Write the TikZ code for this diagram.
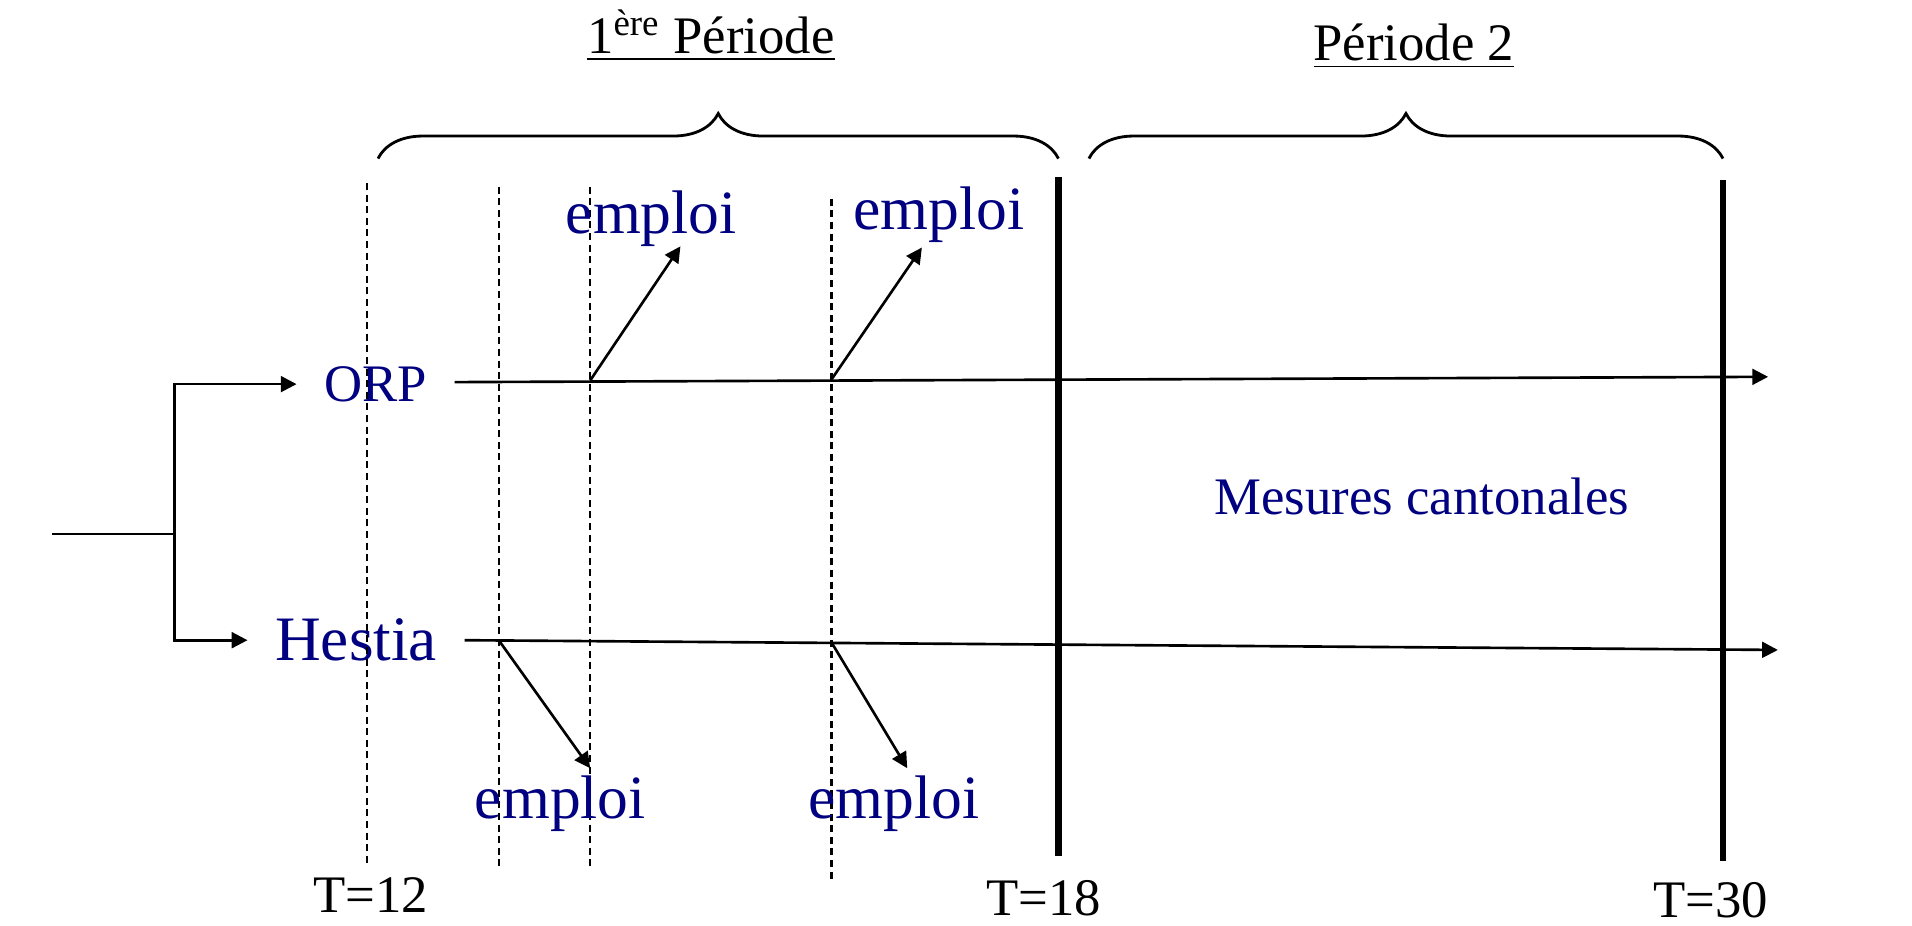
\documentclass[tikz,border=0pt]{standalone}
\usepackage{fontspec}
\setmainfont{Liberation Serif}
\usetikzlibrary{arrows.meta, positioning, decorations.pathreplacing}
\definecolor{navy}{HTML}{000080}
\definecolor{ink}{HTML}{000000}
\tikzset{
  actor/.style  = {font=\fontsize{15}{18}\selectfont, text=navy, inner sep=0.27cm},
  job/.style    = {font=\fontsize{17.5}{20}\selectfont, text=navy, inner sep=0pt},
  note/.style   = {font=\fontsize{15}{18}\selectfont, text=navy, inner sep=0pt},
  tlabel/.style = {font=\fontsize{15}{18}\selectfont, text=ink, inner sep=0pt},
  title/.style  = {font=\fontsize{15}{18}\selectfont, text=ink, inner sep=0pt, anchor=base},
  flow/.style   = {-{Triangle[length=4.5pt,width=4.5pt]}, line width=0.75pt, draw=ink},
  guide/.style  = {line width=0.7pt, draw=ink, dash pattern=on 2pt off 1.3pt},
  limit/.style  = {line width=1.9pt, draw=ink},
  brc/.style    = {decorate, decoration={brace, amplitude=0.45cm}, line width=0.8pt, draw=ink},
}

\begin{document}
\begin{tikzpicture}[x={(0.012194cm,0)}, y={(0,-0.012194cm)}]
  \useasboundingbox (0,0) rectangle (1568,759);

  % split into the two programmes
  \coordinate (in) at (43,438);
  \coordinate (split) at (143,438);
  \node[actor] (orp) at (308,315) {ORP};
  \node[actor, font=\fontsize{18}{21}\selectfont] (hestia) at (292,525) {Hestia};
  \draw[line width=0.75pt, draw=ink] (in) -- (split);
  \draw[flow] (split) |- (orp.west);
  \draw[flow] (split) |- (hestia.west);

  % time lines
  \coordinate (orpend) at (1450,309);
  \coordinate (hestiaend) at (1458,533);
  \draw[flow] ([yshift=0.02cm]orp.east) -- (orpend);
  \draw[flow] (hestia.east) -- (hestiaend);

  % dashed dates
  \foreach \x/\ya/\yb in {301/150/708, 409/153/710, 484/153/712, 682/163/722}
    \draw[guide] (\x,\ya) -- (\x,\yb);

  % period limits
  \draw[limit] (868,145) -- (868,702);
  \draw[limit] (1413,148) -- (1413,706);

  % exits to employment
  \node[job] (up1) at (534,179) {emploi};
  \node[job] (up2) at (770,176) {emploi};
  \node[job] (dn1) at (459.5,659) {emploi};
  \node[job] (dn2) at (733,659) {emploi};
  \coordinate (o1) at (484,312);
  \coordinate (o2) at (682,311);
  \coordinate (h1) at (409,525);
  \coordinate (h2) at (682,527);
  \coordinate (up1tip) at (558,202);
  \coordinate (up2tip) at (756,203);
  \coordinate (dn1tip) at (484,630);
  \coordinate (dn2tip) at (744,630);
  \draw[flow] (o1) -- (up1tip);
  \draw[flow] (o2) -- (up2tip);
  \draw[flow] (h1) -- (dn1tip);
  \draw[flow] (h2) -- (dn2tip);

  \node[note] (mesures) at (1166,407) {Mesures cantonales};

  % dates
  \node[tlabel] (t12) at (304,734) {T=12};
  \node[tlabel] (t18) at (856,737) {T=18};
  \node[tlabel] (t30) at (1403,738) {T=30};

  % periods
  \node[title] (per1) at (583,44) {\underline{1\textsuperscript{ère} Période}};
  \node[title] (per2) at (1159.5,50) {\underline{Période 2}};
  \coordinate (b1l) at (310,130);
  \coordinate (b1r) at (868,130);
  \coordinate (b2l) at (893,130);
  \coordinate (b2r) at (1413,130);
  \draw[brc] (b1l) -- (b1r);
  \draw[brc] (b2l) -- (b2r);
\end{tikzpicture}
\end{document}
